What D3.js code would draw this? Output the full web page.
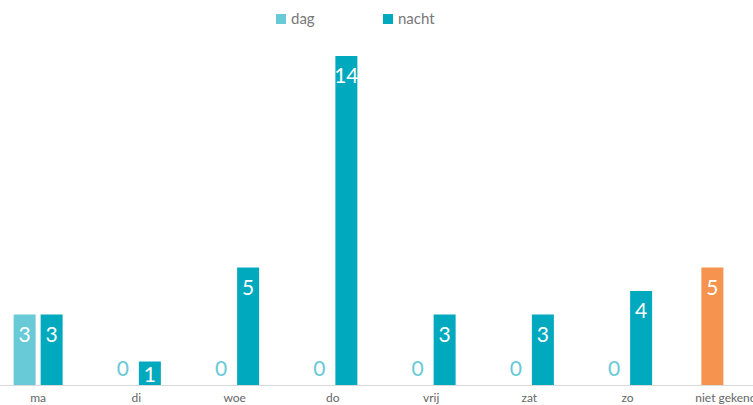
<!DOCTYPE html>
<html>
<head>
<meta charset="utf-8">
<script src="https://cdn.jsdelivr.net/npm/d3@7"></script>
<style>
  html, body { margin: 0; padding: 0; background: #fff; overflow: hidden; }
  svg { display: block; }
</style>
</head>
<body>
<svg id="chart" width="753" height="405"></svg>
<script>
const categories = ["ma", "di", "woe", "do", "vrij", "zat", "zo", "niet gekend"];
const seriesNames = ["dag", "nacht"];
const dag = [3, 0, 0, 0, 0, 0, 0, 5];
const nacht = [3, 1, 5, 14, 3, 3, 4, null];
const highlightCategory = "niet gekend";

const colors = { dag: "#68C9D7", nacht: "#00A9BD", highlight: "#F5934F" };
const fontFamily = "Lato, 'Open Sans', sans-serif";

const svg = d3.select("#chart");
const baseline = 385;

const x0 = d3.scaleBand().domain(categories).range([-11, 775]).paddingInner(0).paddingOuter(0);
const x1 = d3.scaleBand().domain(seriesNames)
  .range([x0.bandwidth() / 2 - 24.5, x0.bandwidth() / 2 + 24.5])
  .paddingInner(5 / 27).paddingOuter(0);
const y = d3.scaleLinear().domain([0, 14]).range([baseline, 56]);

// axis
const axis = d3.axisBottom(x0).tickSize(0).tickPadding(8);
const gAxis = svg.append("g").attr("transform", `translate(0,${baseline})`).call(axis);
gAxis.select(".domain").attr("stroke", "#d9d9d9").attr("stroke-width", 1)
  .attr("d", `M-20,0.5H800`);
gAxis.selectAll("text").attr("fill", "#666").style("font-size", "12px").style("font-family", fontFamily);

const data = [];
categories.forEach((c, i) => {
  const vals = { dag: dag[i], nacht: nacht[i] };
  seriesNames.forEach(s => {
    if (vals[s] !== null && vals[s] !== undefined) {
      data.push({ cat: c, series: s, value: vals[s] });
    }
  });
});

const g = svg.append("g");
const groups = g.selectAll("g.bar").data(data).join("g").attr("class", "bar")
  .attr("transform", d => `translate(${x0(d.cat) + x1(d.series)},0)`);

groups.append("rect")
  .attr("x", 0)
  .attr("width", x1.bandwidth())
  .attr("y", d => y(d.value))
  .attr("height", d => baseline - y(d.value))
  .attr("fill", d => d.cat === highlightCategory ? colors.highlight : colors[d.series]);

groups.append("text")
  .attr("x", x1.bandwidth() / 2)
  .attr("y", d => d.value === 0 ? baseline - 9 : Math.min(y(d.value) + 27, baseline - 3))
  .attr("text-anchor", "middle")
  .attr("fill", d => d.value === 0 ? colors.dag : "#fff")
  .style("font-size", "21px")
  .style("font-family", fontFamily)
  .text(d => d.value);

// legend
const legend = svg.append("g");
const legendItems = [{ name: "dag", x: 276 }, { name: "nacht", x: 383 }];
legendItems.forEach(it => {
  legend.append("rect").attr("x", it.x).attr("y", 14).attr("width", 10).attr("height", 10)
    .attr("fill", colors[it.name]);
  legend.append("text").attr("x", it.x + 15).attr("y", 24)
    .attr("fill", "#777").style("font-size", "15px").style("font-family", fontFamily)
    .text(it.name);
});
</script>
</body>
</html>
